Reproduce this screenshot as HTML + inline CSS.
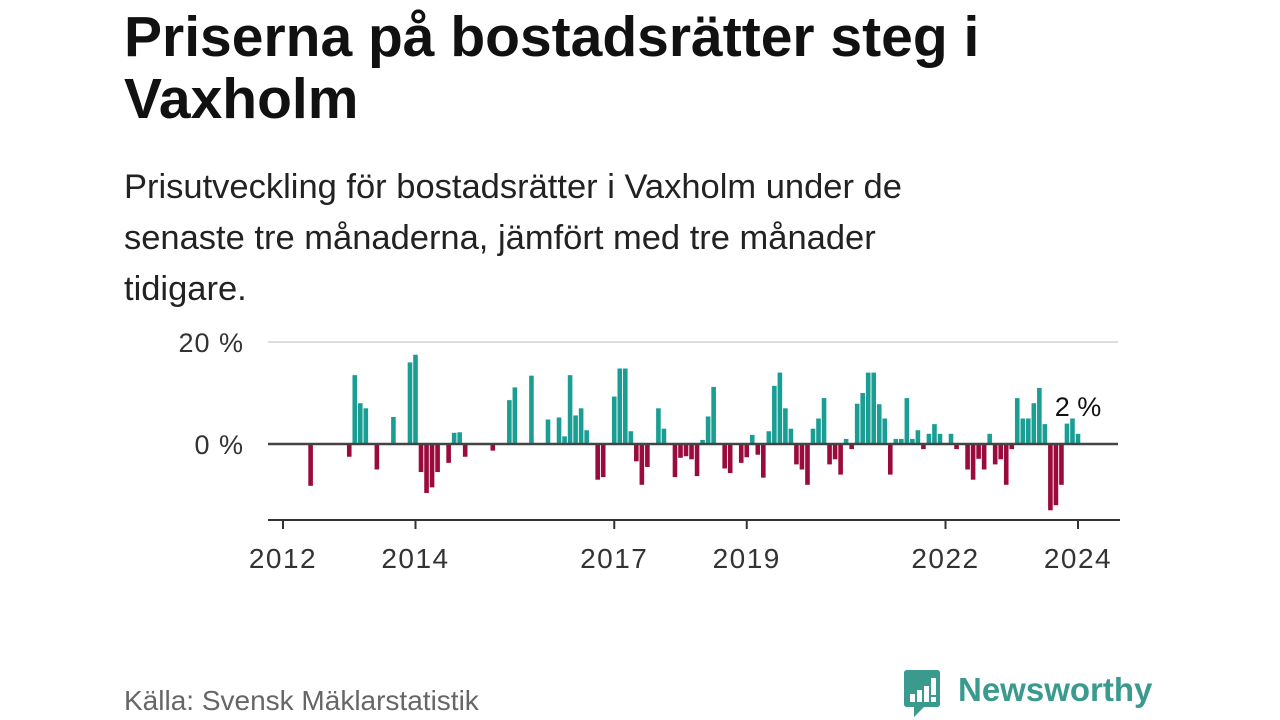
<!DOCTYPE html>
<html><head><meta charset="utf-8"><style>
body{margin:0;width:1280px;height:720px;background:#fff;position:relative;font-family:"Liberation Sans","DejaVu Sans",sans-serif;overflow:hidden}
h1{position:absolute;left:124px;top:6px;margin:0;font-size:57px;line-height:62px;font-weight:bold;color:#111;width:900px}
.sub{position:absolute;left:124px;top:162px;font-size:34.5px;line-height:51px;color:#222;width:860px}
.src{position:absolute;left:124px;top:685px;font-size:28px;color:#666}
.logo{position:absolute;left:958px;top:671px;font-size:33px;font-weight:bold;color:#3a9a8e}
</style></head><body>
<h1>Priserna på bostadsrätter steg i Vaxholm</h1>
<div class="sub">Prisutveckling för bostadsrätter i Vaxholm under de senaste tre månaderna, jämfört med tre månader tidigare.</div>
<svg id="chart" width="1280" height="720" style="position:absolute;left:0;top:0"></svg>
<div class="src">Källa: Svensk Mäklarstatistik</div>
<svg width="40" height="50" style="position:absolute;left:902px;top:670px">
<path d="M2 3 Q2 0 5 0 L35 0 Q38 0 38 3 L38 34 Q38 37 35 37 L22 37 L12 47 L12 37 L5 37 Q2 37 2 34Z" fill="#3a9a8e"/>
<rect x="8" y="24" width="5" height="8" fill="#fff"/><rect x="15" y="20" width="5" height="12" fill="#fff"/><rect x="22" y="16" width="5" height="16" fill="#fff"/><rect x="29" y="8" width="5" height="17" fill="#fff"/><rect x="29" y="27" width="5" height="5" fill="#fff"/>
</svg>
<div class="logo">Newsworthy</div>
<script>
const startYear = 2012;
const values = [0,0,0,0,0,-8.2,0,0,0,0,0,0,-2.5,13.5,8,7,0,-5,0,0,5.3,0,0,16,17.5,-5.5,-9.6,-8.5,-5.5,0,-3.7,2.2,2.3,-2.5,0,0,0,0,-1.3,0,0,8.6,11.1,0,0,13.4,0,0,4.8,0,5.2,1.5,13.5,5.6,7,2.7,0,-7,-6.5,0,9.3,14.8,14.8,2.5,-3.4,-8,-4.5,0,7,3,0,-6.5,-2.7,-2.4,-3,-6.3,0.8,5.4,11.2,0,-4.8,-5.7,0,-3.7,-2.6,1.8,-2.1,-6.6,2.5,11.4,14,7,3,-4,-5,-8,3,5,9,-4,-3,-6,1,-1,7.9,10,14,14,7.8,5,-6,1,1,9,1,2.7,-1,2,3.9,2,0,2,-1,0,-5,-7,-2.9,-5,2,-4,-3,-8,-1,9,5,5,8,11,3.9,-13,-12,-8,4,5,2];
const xTickYears = [2012,2014,2017,2019,2022,2024];
const yTicks = [0,20];
const yTickLabels = ["0 %","20 %"];
const lastLabel = "2 %";

const svg = document.getElementById('chart');
const NS = 'http://www.w3.org/2000/svg';
const x = m => 283 + m * (1078 - 283) / 144;
const y = v => 444 - v * 5.1;
function mk(tag, attrs){const e=document.createElementNS(NS,tag);for(const k in attrs)e.setAttribute(k,attrs[k]);svg.appendChild(e);return e;}

yTicks.forEach((t,i)=>{
  if(t!==0){const g=mk('line',{x1:268,x2:1118,y1:y(t),y2:y(t),stroke:'#ddd','stroke-width':2});
  
  }
  const l=mk('text',{x:244,y:y(t)+10,'text-anchor':'end','font-size':27,'letter-spacing':1,fill:'#333'});
  l.textContent=yTickLabels[i];
  
  
});
values.forEach((v,i)=>{
  if(v===0)return;
  const r=mk('rect',{x:x(i)-2.3,width:4.6,y:Math.min(y(v),y(0)),height:Math.abs(y(v)-y(0)),fill:v>0?'#1a9e94':'#9b0a3c'});
  
  
});
const z=mk('line',{x1:268,x2:1118,y1:y(0),y2:y(0),stroke:'#444','stroke-width':2.5});


const ax=mk('line',{x1:268,x2:1120,y1:520,y2:520,stroke:'#333','stroke-width':2});


xTickYears.forEach(yr=>{
  const m=(yr-startYear)*12;
  const t=mk('line',{x1:x(m),x2:x(m),y1:520,y2:529,stroke:'#333','stroke-width':2});
  
  
  const l=mk('text',{x:x(m),y:568,'text-anchor':'middle','font-size':28,'letter-spacing':1.5,fill:'#333'});
  l.textContent=yr;
  
  
});
const last=values.length-1;
const lab=mk('text',{x:x(last),y:y(values[last])-18,'text-anchor':'middle','font-size':27,fill:'#111'});
lab.textContent=lastLabel;


</script>
</body></html>
